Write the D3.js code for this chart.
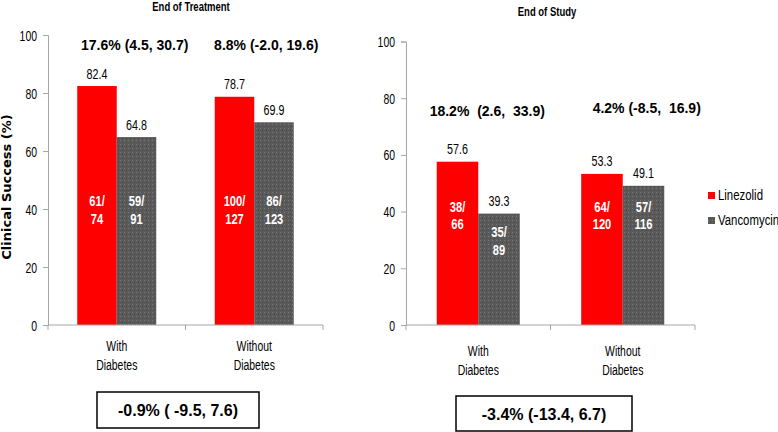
<!DOCTYPE html>
<html><head><meta charset="utf-8">
<script src="https://cdn.jsdelivr.net/npm/d3@7"></script>
<style>
body{margin:0;background:#fff;}
svg{display:block;}
</style></head><body>
<script>
const categories = [["With","Diabetes"],["Without","Diabetes"]];
const seriesNames = ["Linezolid","Vancomycin"];
const eotLinezolid = [82.4, 78.7];
const eotVancomycin = [64.8, 69.9];
const eotLinezolidN = [["61/","74"],["100/","127"]];
const eotVancomycinN = [["59/","91"],["86/","123"]];
const eotDiff = ["17.6% (4.5, 30.7)", "8.8% (-2.0, 19.6)"];
const eotOverall = "-0.9% ( -9.5, 7.6)";
const eosLinezolid = [57.6, 53.3];
const eosVancomycin = [39.3, 49.1];
const eosLinezolidN = [["38/","66"],["64/","120"]];
const eosVancomycinN = [["35/","89"],["57/","116"]];
const eosDiff = ["18.2%  (2.6,  33.9)", "4.2% (-8.5,  16.9)"];
const eosOverall = "-3.4% (-13.4, 6.7)";
const yTicks = [0,20,40,60,80,100];

const W=778,H=432;
const svg=d3.select("body").append("svg").attr("width",W).attr("height",H);
const defs=svg.append("defs");
const pat=defs.append("pattern").attr("id","dots").attr("patternUnits","userSpaceOnUse").attr("width",4).attr("height",4);
pat.append("rect").attr("width",4).attr("height",4).attr("fill","#5a5a5a");
pat.append("rect").attr("x",0).attr("y",0).attr("width",1).attr("height",1).attr("fill","#787878");
pat.append("rect").attr("x",2).attr("y",2).attr("width",1).attr("height",1).attr("fill","#474747");

const SANS='"Liberation Sans",Arial,sans-serif';
const colors=["#ff0000","url(#dots)"];
const SX=0.74;

function ntext(parent,x,y,t,size,anchor,opts={}){
  const el=parent.append("text").attr("transform",`translate(${x},${y}) scale(${opts.sx||SX},1)`)
    .attr("text-anchor",anchor).attr("font-family",SANS).attr("font-size",size)
    .attr("fill",opts.fill||"#000").text(t);
  if(opts.bold) el.attr("font-weight","bold");
  return el;
}

function panel(o){
  const g=svg.append("g");
  const x=d3.scaleBand().domain(d3.range(categories.length)).range([o.x0,o.x1]).padding(0);
  const xs=d3.scaleBand().domain([0,1]).range([0,x.bandwidth()]).paddingInner(0).paddingOuter(0.74);
  const y=d3.scaleLinear().domain([0,100]).range([o.y0,o.y1]);
  const ya=g.append("g").attr("transform",`translate(${o.x0},0)`).call(d3.axisLeft(y).tickValues(yTicks).tickSize(5).tickFormat(""));
  ya.select(".domain").attr("stroke","#a6a6a6");
  ya.selectAll(".tick line").attr("stroke","#a6a6a6");
  ya.selectAll(".tick").each(function(d){
    ntext(d3.select(this),-11,5,String(d),14.5,"end",{sx:0.72});
  });
  const vals=[o.a,o.b], ns=[o.an,o.bn];
  categories.forEach((c,i)=>{
    [0,1].forEach(s=>{
      const v=vals[s][i];
      const bx=x(i)+xs(s), bw=xs.bandwidth();
      g.append("rect").attr("x",bx).attr("y",y(v)).attr("width",bw).attr("height",o.y0-y(v)).attr("fill",colors[s]);
      ntext(g,bx+bw/2,y(v)-7.5,v.toFixed(1),14.5,"middle");
      const ly=Math.max(y(o.labelV), y(v)+23.5);
      ns[s][i].forEach((t,k)=>{
        ntext(g,bx+bw/2,ly+k*17.5,t,14.5,"middle",{bold:true,fill:"#fff",sx:0.77});
      });
    });
    c.forEach((t,k)=>{
      ntext(g,x(i)+x.bandwidth()/2,o.y0+o.catDy+k*19,t,14.5,"middle",{sx:0.72});
    });
    g.append("text").attr("x",x(i)+x.bandwidth()/2+o.diffDx[i]).attr("y",y(o.diffV[i])).attr("text-anchor","middle")
      .attr("font-family",SANS).attr("font-weight","bold").attr("font-size",14).style("white-space","pre").text(o.diff[i]);
  });
  const xa=g.append("g");
  xa.append("line").attr("x1",o.x0).attr("x2",o.x1).attr("y1",o.y0).attr("y2",o.y0).attr("stroke","#a6a6a6");
  [0,1,2].forEach(k=>{
    const tx=k<2?x(k):o.x1;
    xa.append("line").attr("x1",tx).attr("x2",tx).attr("y1",o.y0).attr("y2",o.y0+5).attr("stroke","#a6a6a6");
  });
  ntext(g,o.tx,o.ty,o.title,13,"middle",{bold:true,sx:0.73});
  g.append("rect").attr("x",o.box[0]).attr("y",o.box[1]).attr("width",o.box[2]).attr("height",o.box[3])
    .attr("fill","#fff").attr("stroke","#000").attr("stroke-width",1.5);
  g.append("text").attr("x",o.box[0]+o.box[2]/2).attr("y",o.box[1]+o.box[3]/2+6).attr("text-anchor","middle")
    .attr("font-family",SANS).attr("font-weight","bold").attr("font-size",16).style("white-space","pre").text(o.overall);
}

panel({x0:48,x1:323,y0:325,y1:35,a:eotLinezolid,b:eotVancomycin,an:eotLinezolidN,bn:eotVancomycinN,
  labelV:41,catDy:26,diff:eotDiff,diffV:[94.8,94.8],diffDx:[18,12],title:"End of Treatment",tx:191,ty:11,
  box:[97,392,162,36],overall:eotOverall});
panel({x0:406,x1:695,y0:325,y1:41.5,a:eosLinezolid,b:eosVancomycin,an:eosLinezolidN,bn:eosVancomycinN,
  labelV:40,catDy:31,diff:eosDiff,diffV:[73.7,74.8],diffDx:[9,24],title:"End of Study",tx:547,ty:16,
  box:[456,396,176,35],overall:eosOverall});

svg.append("text").attr("transform","translate(11,187) rotate(-90)").attr("text-anchor","middle")
  .attr("font-family",'"DejaVu Sans",sans-serif').attr("font-weight","bold").attr("font-size",13).text("Clinical Success (%)");

const leg=svg.append("g");
seriesNames.forEach((n,i)=>{
  leg.append("rect").attr("x",708).attr("y",192+i*25).attr("width",7).attr("height",7).attr("fill",colors[i]);
  ntext(leg,718,200+i*25,n,15,"start",{sx:0.76});
});
</script>
</body></html>
